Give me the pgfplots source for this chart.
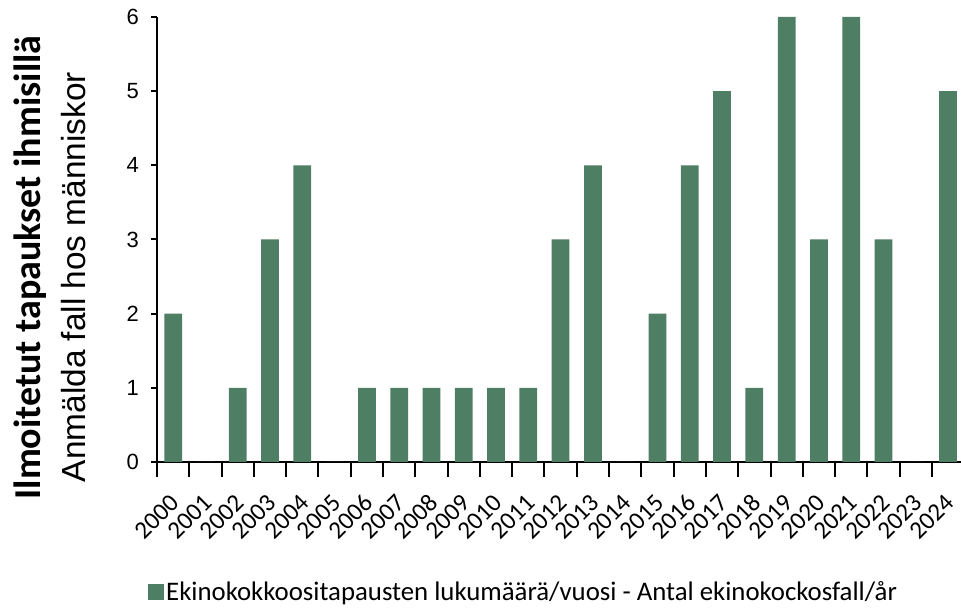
\documentclass[border=0pt]{standalone}
\usepackage{fontspec}
\setmainfont{Carlito}
\newfontfamily\arialf{Liberation Sans}
\usepackage{pgfplots}
\pgfplotsset{compat=1.18}
\definecolor{barg}{RGB}{78,126,99}
\begin{document}
\begin{tikzpicture}
\useasboundingbox (0,0) rectangle (961pt,609pt);
\begin{axis}[
  at={(157pt,147pt)}, anchor=south west,
  scale only axis, width=804pt, height=445pt,
  xmin=-0.5, xmax=24.4, ymin=0, ymax=6,
  axis x line*=bottom, axis y line*=left,
  axis line style={line width=2.2pt},
  ytick={0,...,6},
  xtick={0,...,24},
  xticklabels={2000,2001,2002,2003,2004,2005,2006,2007,2008,2009,2010,2011,2012,2013,2014,2015,2016,2017,2018,2019,2020,2021,2022,2023,2024},
  major x tick style={draw=none},
  minor xtick={-0.5,0.5,...,24.5},
  minor tick length=15pt,
  xtick align=center,
  ytick align=outside,
  major tick length=6pt,
  tick style={line width=2pt, black},
  /pgf/number format/assume math mode=true,
  yticklabel style={font=\arialf\fontsize{22}{22}\selectfont, anchor=east, inner sep=0pt, xshift=-12pt},
  xticklabel style={font=\fontsize{25}{25}\selectfont, rotate=45, anchor=east, inner sep=0pt, xshift=-20pt, yshift=-23pt},
  ylabel={{\bfseries\fontsize{38}{45}\selectfont Ilmoitetut tapaukset ihmisillä}\\{\arialf\fontsize{33.4}{45}\selectfont Anmälda fall hos människor\hspace*{19pt}}},
  ylabel style={align=center, font=\fontsize{33}{45}\selectfont, at={(axis description cs:-0.133,0.437)}, anchor=center},
  legend style={draw=none, at={(axis description cs:0.456,-0.292)}, anchor=center, font=\fontsize{26.8}{26.8}\selectfont, inner sep=0pt},
  ybar, bar width=0.55,
]
\addplot[fill=barg, draw=none, legend image code/.code={\fill[barg] (-14pt,-8pt) rectangle (2pt,8pt);}] coordinates {
(0,2) (1,0) (2,1) (3,3) (4,4) (5,0) (6,1) (7,1) (8,1) (9,1) (10,1) (11,1) (12,3)
(13,4) (14,0) (15,2) (16,4) (17,5) (18,1) (19,6) (20,3) (21,6) (22,3) (23,0) (24,5)};
\addlegendentry{Ekinokokkoositapausten lukumäärä/vuosi - Antal ekinokockosfall/år}
\end{axis}
\end{tikzpicture}
\end{document}
